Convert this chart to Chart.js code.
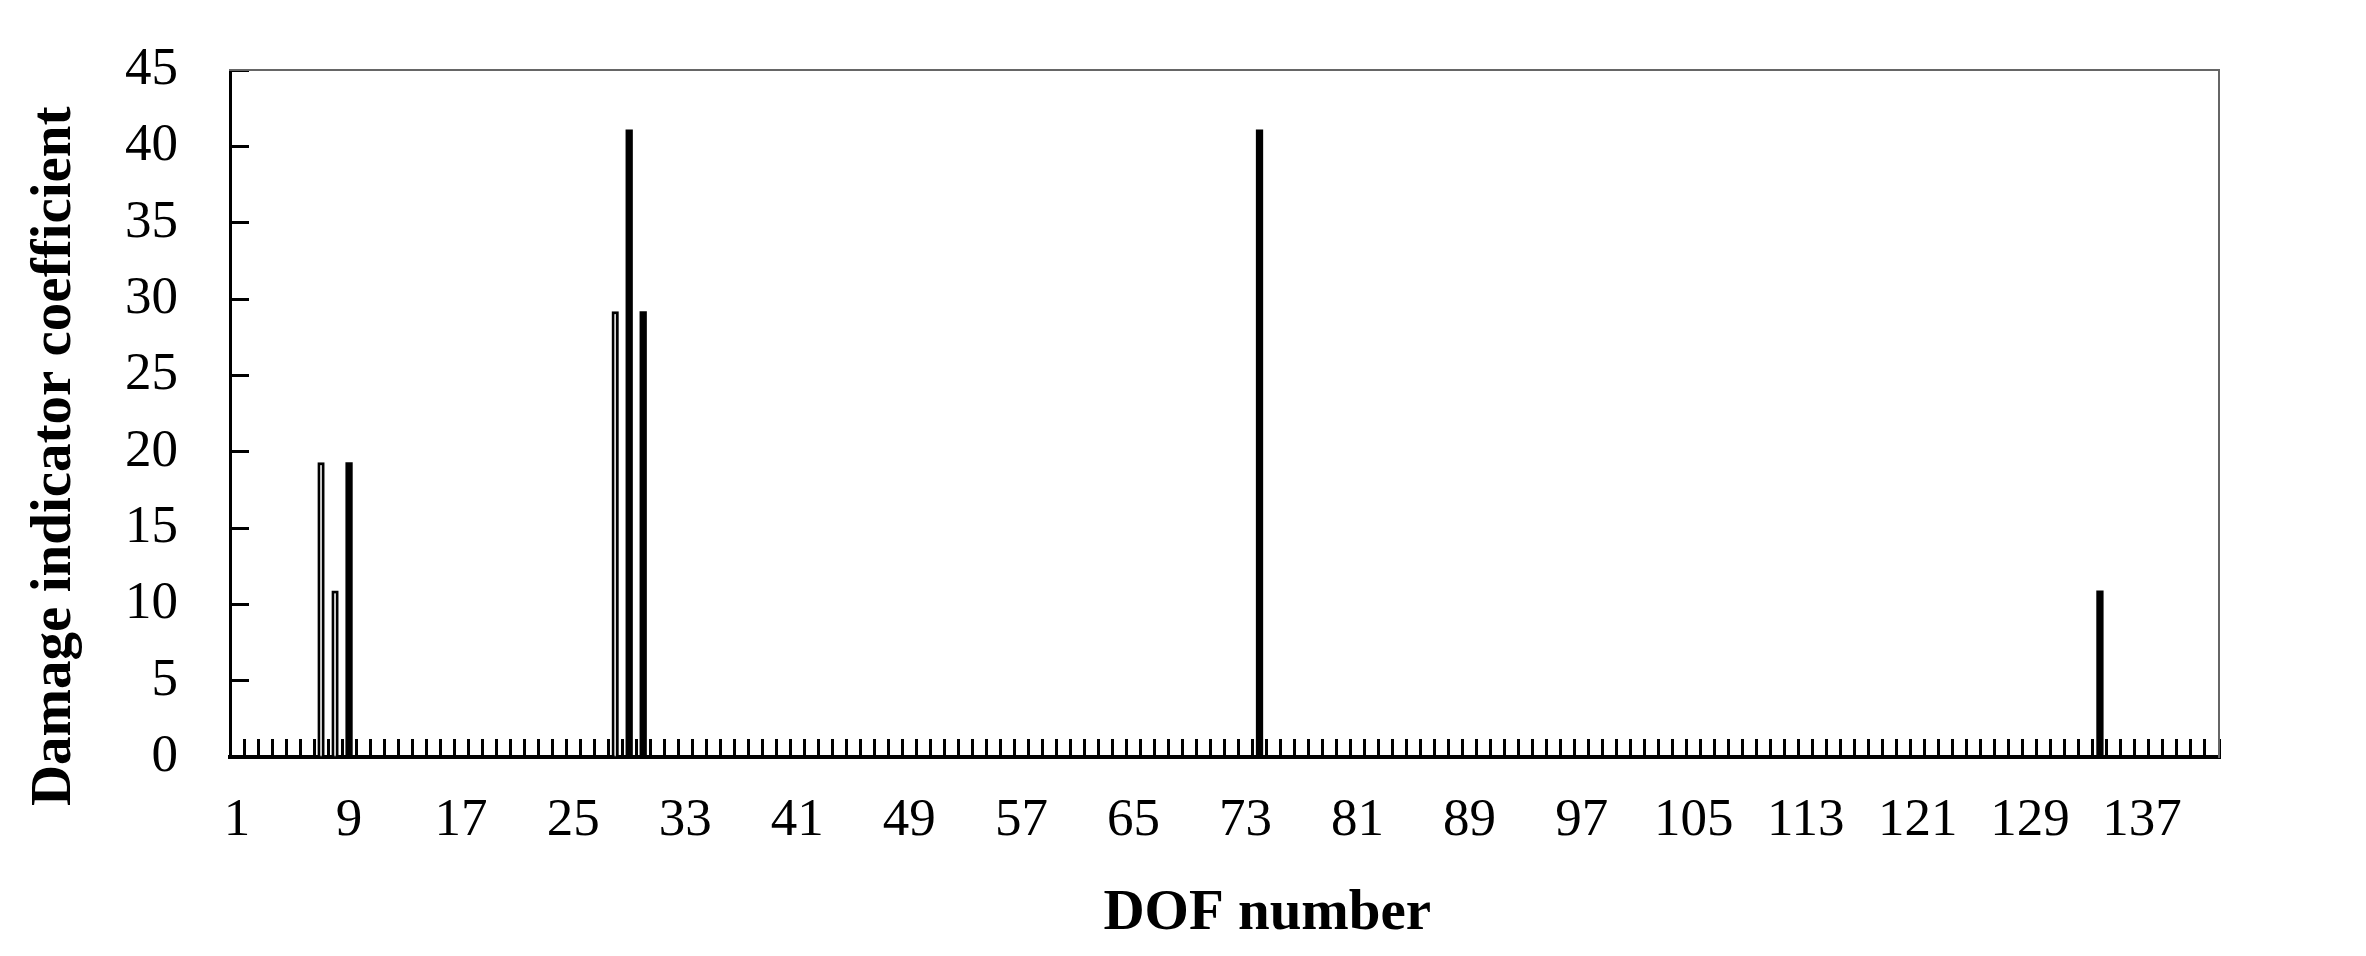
<!DOCTYPE html>
<html>
<head>
<meta charset="utf-8">
<script src="https://cdn.jsdelivr.net/npm/chart.js@4.4.1/dist/chart.umd.min.js"></script>
<style>
  html, body { margin: 0; padding: 0; background: #fff; }
  #wrap { width: 2366px; height: 956px; }
</style>
</head>
<body>
<div id="wrap"><canvas id="dofChart" width="2366" height="956"></canvas></div>
<script>
// DOF numbers on the x axis
const dofNumbers = Array.from({ length: 142 }, (_, i) => String(i + 1));

// only every 8th DOF is printed under the axis
const shownTicks = ['1', '9', '17', '25', '33', '41', '49', '57', '65', '73', '81',
                    '89', '97', '105', '113', '121', '129', '137'];

// damage indicator coefficient, DOF 1..142
const coefficients = [
    0, 0, 0, 0, 0, 0, 19.3, 10.9, 19.3, 0,      // 1-10
    0, 0, 0, 0, 0, 0, 0, 0, 0, 0,               // 11-20
    0, 0, 0, 0, 0, 0, 0, 29.2, 41.1, 29.2,      // 21-30
    0, 0, 0, 0, 0, 0, 0, 0, 0, 0,               // 31-40
    0, 0, 0, 0, 0, 0, 0, 0, 0, 0,               // 41-50
    0, 0, 0, 0, 0, 0, 0, 0, 0, 0,               // 51-60
    0, 0, 0, 0, 0, 0, 0, 0, 0, 0,               // 61-70
    0, 0, 0, 41.1, 0, 0, 0, 0, 0, 0,            // 71-80
    0, 0, 0, 0, 0, 0, 0, 0, 0, 0,               // 81-90
    0, 0, 0, 0, 0, 0, 0, 0, 0, 0,               // 91-100
    0, 0, 0, 0, 0, 0, 0, 0, 0, 0,               // 101-110
    0, 0, 0, 0, 0, 0, 0, 0, 0, 0,               // 111-120
    0, 0, 0, 0, 0, 0, 0, 0, 0, 0,               // 121-130
    0, 0, 0, 10.9, 0, 0, 0, 0, 0, 0,            // 131-140
    0, 0                                        // 141-142
];

// y axis range
const yMin = 0;
const yMax = 45;
const yStep = 5;

// bars that show up as outlines in the original print
const hollowDofs = ['7', '8', '28'];

const isHollow = ctx => hollowDofs.includes(dofNumbers[ctx.dataIndex]);

const serif = '"Liberation Serif", "Times New Roman", serif';

const data = {
    labels: dofNumbers,
    datasets: [{
        label: 'Damage indicator coefficient',
        data: coefficients,
        backgroundColor: ctx => isHollow(ctx) ? '#d8d8d8' : '#000',
        borderColor: '#000',
        borderWidth: ctx => isHollow(ctx) ? 3 : 0,
        borderSkipped: 'start',
        barPercentage: ctx => isHollow(ctx) ? 0.8 : 0.52,
        categoryPercentage: 1.0
    }]
};

const config = {
    type: 'bar',
    data: data,
    options: {
        responsive: false,
        animation: false,
        devicePixelRatio: 1,
        layout: {
            padding: { left: 0, right: 147, top: 70, bottom: 0 }
        },
        plugins: {
            legend: { display: false },
            tooltip: { enabled: false }
        },
        scales: {
            x: {
                type: 'category',
                position: 'bottom',
                afterFit: s => { s.height = 956 - 757; },
                grid: {
                    display: true,
                    drawOnChartArea: false,
                    drawTicks: true,
                    tickLength: -18,   // negative: tick marks point up into the plot
                    tickWidth: 3,
                    tickColor: '#000',
                    offset: true
                },
                border: { display: true, color: '#000', width: 4 },
                ticks: {
                    autoSkip: false,
                    maxRotation: 0,
                    minRotation: 0,
                    padding: 50,
                    color: '#000',
                    font: { family: serif, size: 53 },
                    callback: (v, i) => shownTicks.includes(dofNumbers[i]) ? dofNumbers[i] : ''
                },
                title: {
                    display: true,
                    // leading spaces nudge the title right like in the original
                    text: '      DOF number',
                    color: '#000',
                    font: { family: serif, size: 57, weight: 'bold' },
                    padding: { top: 0, bottom: 8 }
                }
            },
            y: {
                type: 'linear',
                position: 'left',
                min: yMin,
                max: yMax,
                afterFit: s => {
                    s.width = 230;
                    // the big tick padding would otherwise push the plot down
                    s.paddingTop = 0;
                    s.paddingBottom = 0;
                },
                grid: {
                    display: true,
                    drawOnChartArea: false,
                    drawTicks: true,
                    tickLength: -19,
                    tickWidth: 3,
                    tickColor: '#000'
                },
                border: { display: true, color: '#000', width: 3 },
                ticks: {
                    stepSize: yStep,
                    padding: 71,
                    color: '#000',
                    font: { family: serif, size: 53 }
                },
                title: {
                    display: true,
                    // trailing spaces push the rotated title down a little
                    text: 'Damage indicator coefficient      ',
                    color: '#000',
                    font: { family: serif, size: 57, weight: 'bold' },
                    padding: { top: 21, bottom: 0 }
                }
            },
            xTop: {
                type: 'linear',
                position: 'top',
                afterFit: s => { s.height = 0; },
                grid: { display: false, drawTicks: false },
                ticks: { display: false },
                border: { display: true, color: '#666', width: 2 }
            },
            yRight: {
                type: 'linear',
                position: 'right',
                afterFit: s => { s.width = 0; },
                grid: { display: false, drawTicks: false },
                ticks: { display: false },
                border: { display: true, color: '#666', width: 2 }
            }
        }
    }
};

// Render the chart
const ctx = document.getElementById('dofChart').getContext('2d');
new Chart(ctx, config);
</script>
</body>
</html>
